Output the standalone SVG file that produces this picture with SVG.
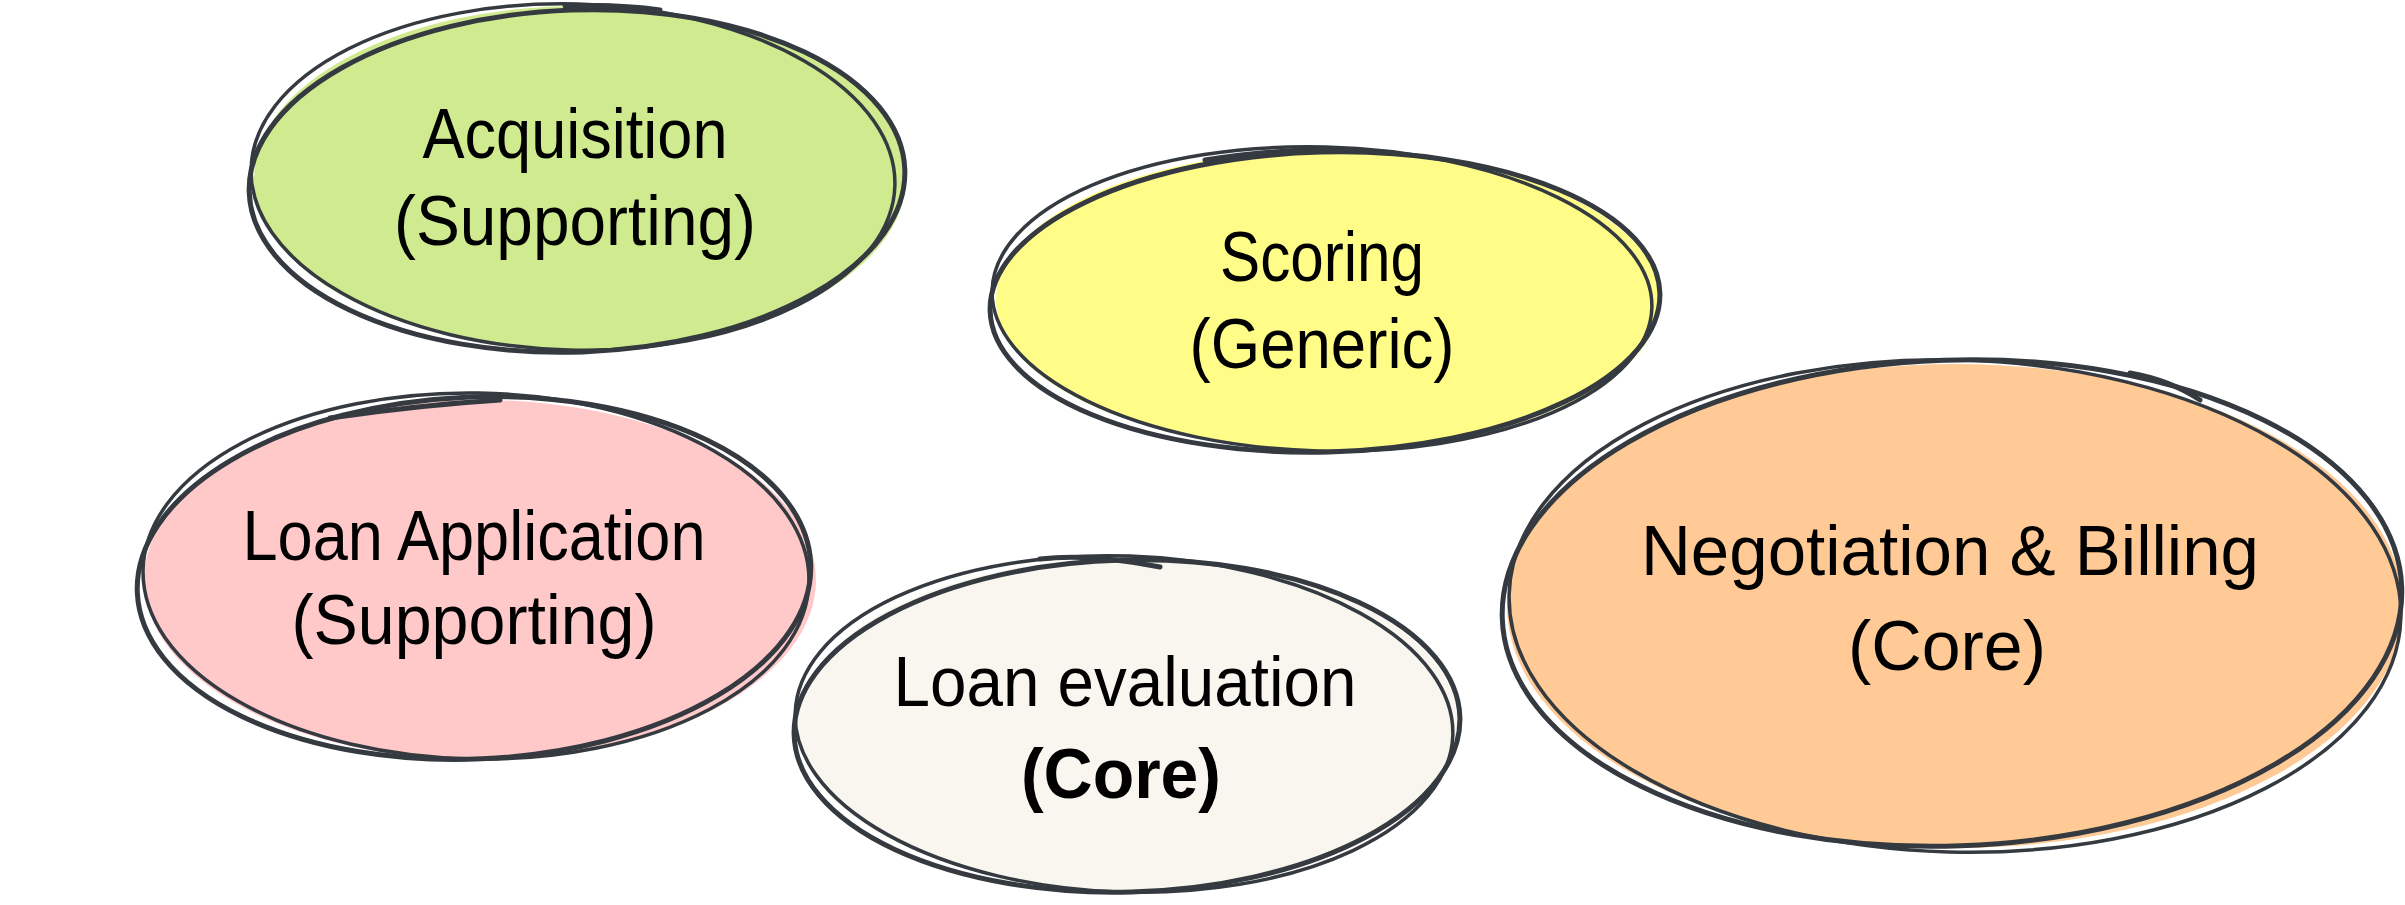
<svg xmlns="http://www.w3.org/2000/svg" width="2405" height="905" viewBox="0 0 2405 905">
<style>
.s1{fill:none;stroke:#343a40;stroke-width:5;stroke-linecap:round}
.s2{fill:none;stroke:#343a40;stroke-width:3.5;stroke-linecap:round}
.t{font-family:"Liberation Sans",Arial,sans-serif;font-size:70px;fill:#000;text-anchor:middle}
.b{font-weight:bold}
</style>
<rect width="2405" height="905" fill="#ffffff"/>
<g id="acquisition">
<ellipse cx="580" cy="178" rx="326" ry="172" fill="#cfea8f"/>
<ellipse class="s1" cx="577" cy="181" rx="328" ry="171" transform="rotate(-2 577 181)"/>
<ellipse class="s2" cx="573" cy="177" rx="322" ry="173" transform="rotate(1.5 573 177)"/>
<path class="s1" d="M565 6 Q620 4 660 10"/>
<text class="t" x="575" y="158" textLength="305" lengthAdjust="spacingAndGlyphs">Acquisition</text>
<text class="t" x="575" y="245" textLength="362" lengthAdjust="spacingAndGlyphs">(Supporting)</text>
</g>
<g id="scoring">
<ellipse cx="1328" cy="300" rx="332" ry="150" fill="#fffd88"/>
<ellipse class="s1" cx="1325" cy="302" rx="335" ry="150" transform="rotate(-1.5 1325 302)"/>
<ellipse class="s2" cx="1322" cy="299" rx="330" ry="152" transform="rotate(1.5 1322 299)"/>
<path class="s1" d="M1205 160 Q1300 145 1380 152"/>
<text class="t" x="1322" y="281" textLength="204" lengthAdjust="spacingAndGlyphs">Scoring</text>
<text class="t" x="1322" y="368" textLength="265" lengthAdjust="spacingAndGlyphs">(Generic)</text>
</g>
<g id="loan-application">
<ellipse cx="480" cy="580" rx="336" ry="180" fill="#ffc9c9"/>
<ellipse class="s1" cx="474" cy="578" rx="337" ry="181" transform="rotate(-2.5 474 578)"/>
<ellipse class="s2" cx="476" cy="576" rx="333" ry="183" transform="rotate(1 476 576)"/>
<path class="s1" d="M330 418 Q420 405 500 400"/>
<text class="t" x="474" y="560" textLength="463" lengthAdjust="spacingAndGlyphs">Loan Application</text>
<text class="t" x="474" y="644" textLength="365" lengthAdjust="spacingAndGlyphs">(Supporting)</text>
</g>
<g id="loan-evaluation">
<ellipse cx="1128" cy="724" rx="330" ry="166" fill="#f8f6ee"/>
<ellipse class="s1" cx="1127" cy="726" rx="333" ry="166" transform="rotate(-1.5 1127 726)"/>
<ellipse class="s2" cx="1124" cy="724" rx="329" ry="168" transform="rotate(2 1124 724)"/>
<path class="s1" d="M1040 559 Q1090 553 1160 567"/>
<text class="t" x="1125" y="706" textLength="463" lengthAdjust="spacingAndGlyphs">Loan evaluation</text>
<text class="t b" x="1121" y="798" textLength="200" lengthAdjust="spacingAndGlyphs">(Core)</text>
</g>
<g id="negotiation-billing">
<ellipse cx="1955" cy="606" rx="448" ry="242" fill="#ffca96"/>
<ellipse class="s1" cx="1952" cy="603" rx="450" ry="243" transform="rotate(-2 1952 603)"/>
<ellipse class="s2" cx="1955" cy="606" rx="446" ry="246" transform="rotate(1.5 1955 606)"/>
<path class="s1" d="M2130 373 Q2170 380 2200 400"/>
<text class="t" x="1950" y="575" textLength="618" lengthAdjust="spacingAndGlyphs">Negotiation &amp; Billing</text>
<text class="t" x="1947" y="670" textLength="198" lengthAdjust="spacingAndGlyphs">(Core)</text>
</g>
<g id="connectors"></g>
</svg>
